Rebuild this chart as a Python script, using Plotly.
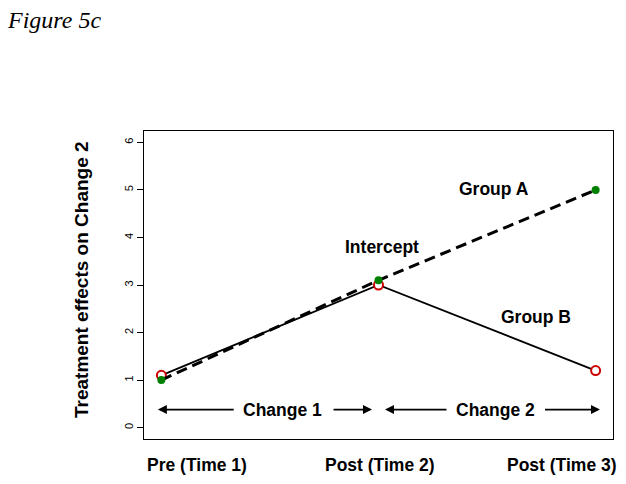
import plotly.graph_objects as go

times = [1, 2, 3]
time_labels = ["Pre (Time 1)", "Post (Time 2)", "Post (Time 3)"]
group_a = [1.0, 3.1, 5.0]
group_b = [1.1, 3.0, 1.2]
y_ticks = [0, 1, 2, 3, 4, 5, 6]

W, H = 626, 484
L, R, T, B = 144, 13, 131, 45
PW, PH = W - L - R, H - T - B

fig = go.Figure()
fig.add_trace(go.Scatter(
    x=times, y=group_b, mode="lines+markers",
    line=dict(color="black", width=1.8),
    marker=dict(symbol="circle", size=9, color="white",
                line=dict(color="#cc0000", width=2)),
    showlegend=False))
fig.add_trace(go.Scatter(
    x=times, y=group_a, mode="lines+markers",
    line=dict(color="black", width=3, dash="11px,6px"),
    marker=dict(symbol="circle", size=8, color="#008000",
                line=dict(color="#008000", width=0)),
    showlegend=False))

bold = dict(family="Liberation Sans, Arial, sans-serif", size=17.5, color="black")
ann = []
for txt, x, y in [("Group A", 2.533, 5.03), ("Intercept", 2.016, 3.79), ("Group B", 2.726, 2.33)]:
    ann.append(dict(x=x, y=y, xref="x", yref="y", text="<b>%s</b>" % txt,
                    showarrow=False, font=bold))
ann.append(dict(x=1.56, y=0.38, xref="x", yref="y", text="<b>Change 1</b>", showarrow=False, font=bold))
ann.append(dict(x=2.54, y=0.38, xref="x", yref="y", text="<b>Change 2</b>", showarrow=False, font=bold))
for head, tail in [(0.984, 1.34), (1.97, 1.786), (2.03, 2.32), (3.02, 2.76)]:
    ann.append(dict(x=head, y=0.38, ax=tail, ay=0.38, xref="x", yref="y",
                    axref="x", ayref="y", text="", showarrow=True,
                    arrowhead=2, arrowsize=1.0, arrowwidth=1.8, arrowcolor="black"))
for txt, x in zip(time_labels, [1.164, 2.007, 2.846]):
    ann.append(dict(x=x, y=-(465 - (H - B)) / PH, xref="x", yref="paper",
                    xanchor="center", yanchor="middle",
                    text="<b>%s</b>" % txt, showarrow=False, font=bold))
ann.append(dict(x=(81 - L) / PW, y=(H - B - 280) / PH, xref="paper", yref="paper",
                xanchor="center", yanchor="middle",
                text="<b>Treatment effects on Change 2</b>", textangle=-90,
                showarrow=False, font=dict(bold, size=19)))
ann.append(dict(x=(5 - L) / PW, y=(H - B - 20) / PH, xref="paper", yref="paper",
                xanchor="left", yanchor="middle", text="<i>Figure 5c</i>", showarrow=False,
                font=dict(family="Liberation Serif, Times New Roman, serif", size=24, color="black")))

fig.update_layout(
    width=W, height=H,
    margin=dict(l=L, r=R, t=T, b=B, autoexpand=False),
    paper_bgcolor="white", plot_bgcolor="white",
    annotations=ann,
    xaxis=dict(range=[0.92, 3.08], showgrid=False, zeroline=False, showticklabels=False,
               ticks="", showline=True, mirror=True, linecolor="black", linewidth=1.2,
               automargin=False),
    yaxis=dict(range=[-0.24, 6.24], showgrid=False, zeroline=False,
               tickvals=y_ticks, ticktext=[str(v) for v in y_ticks],
               ticks="outside", ticklen=6, tickcolor="black", tickangle=-90,
               tickfont=dict(family="Liberation Sans, Arial, sans-serif", size=11, color="black"),
               showline=True, mirror=True, linecolor="black", linewidth=1.2,
               automargin=False),
)
fig.write_html("out.html", config={"displayModeBar": False},
               post_script="document.body.style.margin='0';")
